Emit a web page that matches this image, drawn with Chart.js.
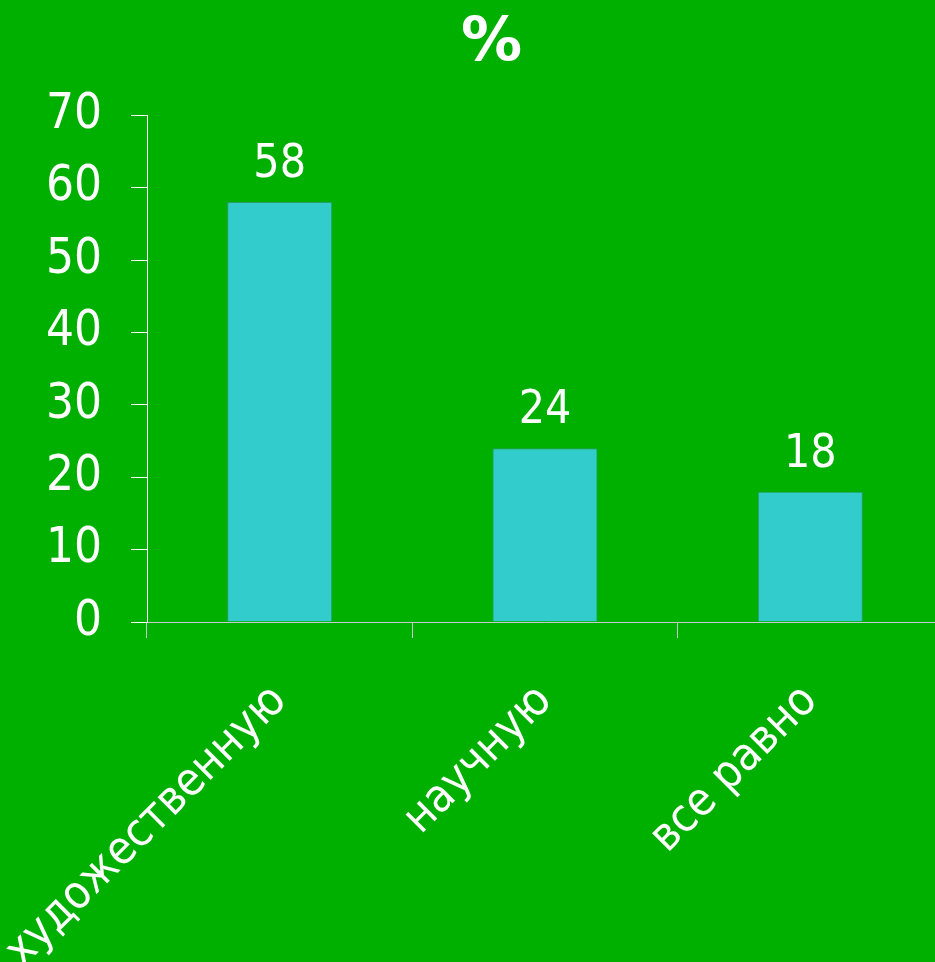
<!DOCTYPE html>
<html>
<head>
<meta charset="utf-8">
<script src="https://cdn.jsdelivr.net/npm/chart.js@4.4.0/dist/chart.umd.min.js"></script>
<style>
  html, body { margin: 0; padding: 0; background: #00B000; overflow: hidden; width: 935px; height: 962px; }
  canvas { display: block; }
</style>
</head>
<body>
<canvas id="c" width="944" height="962"></canvas>
<script>
const categories = ['художественную', 'научную', 'все равно'];
const values = [58, 24, 18];
const yTicks = [0, 10, 20, 30, 40, 50, 60, 70];
const titleText = '%';

const FONT = '"DejaVu Sans Condensed", "DejaVu Sans", sans-serif';

const valueLabels = {
  id: 'valueLabels',
  afterDatasetsDraw(chart) {
    const ctx = chart.ctx;
    const meta = chart.getDatasetMeta(0);
    ctx.save();
    ctx.fillStyle = '#FFFFFF';
    ctx.font = '46px ' + FONT;
    ctx.textAlign = 'center';
    ctx.textBaseline = 'alphabetic';
    meta.data.forEach((bar, i) => {
      ctx.fillText(String(values[i]), bar.x, bar.y - 25);
    });
    ctx.restore();
  }
};

new Chart(document.getElementById('c'), {
  type: 'bar',
  data: {
    labels: categories,
    datasets: [{
      data: values,
      backgroundColor: '#33CCCC',
      borderColor: 'rgba(60,150,150,0.7)',
      borderWidth: 1,
      categoryPercentage: 1,
      barPercentage: 0.396
    }]
  },
  options: {
    responsive: false,
    animation: false,
    devicePixelRatio: 1,
    layout: { padding: { left: 40, right: 1, top: 0, bottom: 0 } },
    plugins: {
      legend: { display: false },
      tooltip: { enabled: false },
      title: {
        display: true,
        text: titleText,
        color: '#FFFFFF',
        font: { family: '"DejaVu Sans", sans-serif', size: 61, weight: 'bold', lineHeight: 1.2 },
        padding: { top: 8, bottom: 34 }
      }
    },
    scales: {
      x: {
        grid: { display: true, drawOnChartArea: false, drawTicks: true, tickLength: 16, color: '#C8C8C8', offset: true },
        border: { display: true, color: '#C8C8C8', width: 1 },
        ticks: {
          color: '#FFFFFF',
          font: { family: FONT, size: 46, lineHeight: 0.24 },
          minRotation: 45,
          maxRotation: 45,
          autoSkip: false,
          padding: 52
        },
        afterFit(scale) {
          scale.height = 340;
          scale.paddingLeft = 0;
          scale.paddingRight = 0;
        }
      },
      y: {
        min: 0,
        max: 70,
        grid: { display: true, drawOnChartArea: false, drawTicks: true, tickLength: 16, color: '#FFFFFF' },
        border: { display: true, color: '#FFFFFF', width: 1 },
        afterBuildTicks(scale) {
          scale.ticks = yTicks.map(v => ({ value: v }));
        },
        ticks: {
          color: '#FFFFFF',
          font: { family: FONT, size: 49 },
          padding: 29,
          stepSize: 10
        },
        afterFit(scale) {
          scale.width = 107;
        }
      }
    }
  },
  plugins: [valueLabels]
});
</script>
</body>
</html>
